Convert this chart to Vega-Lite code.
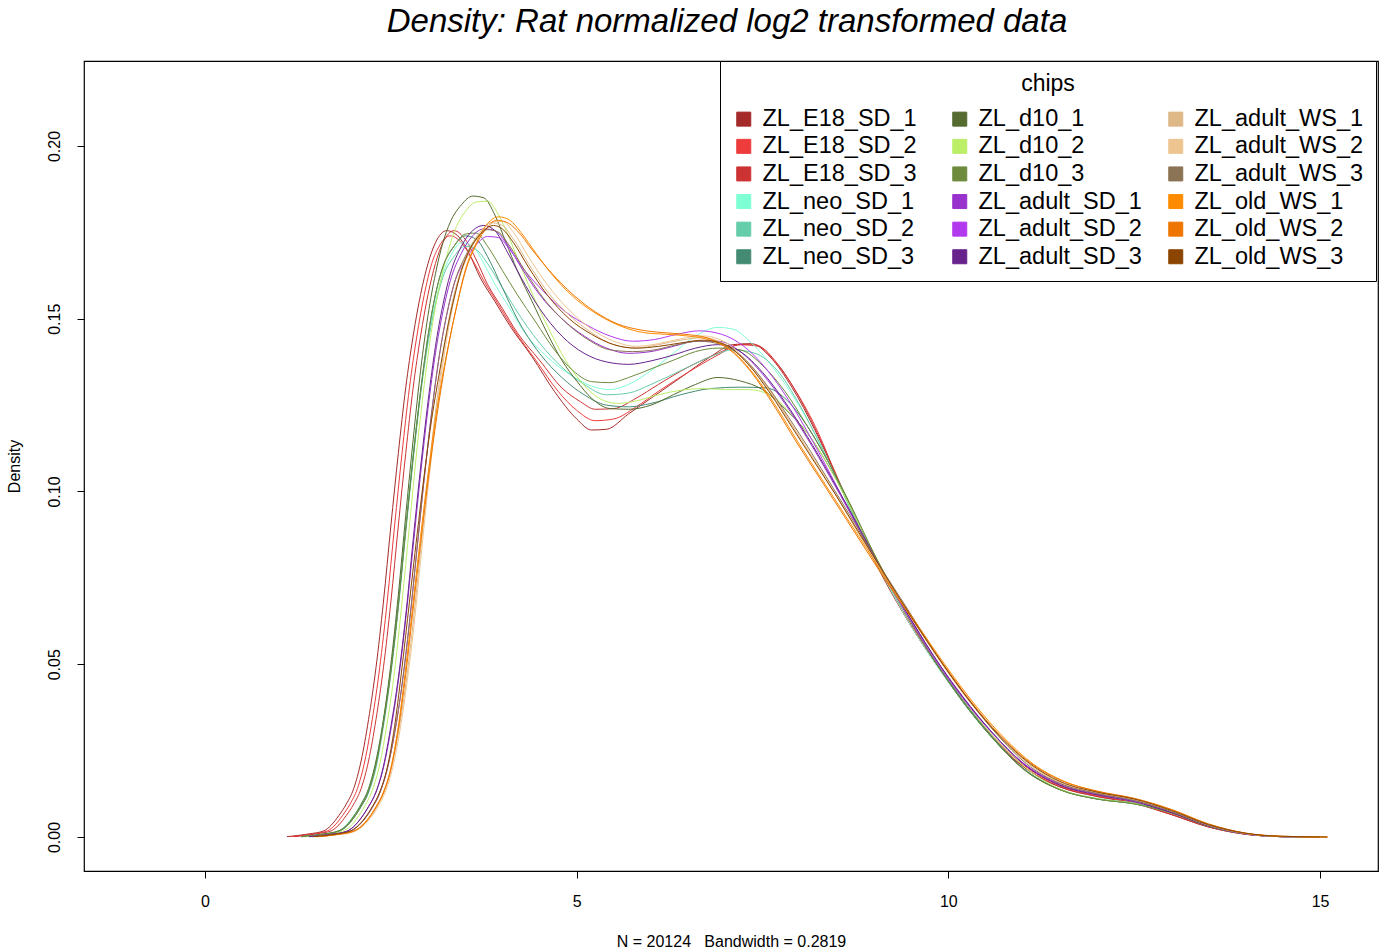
{
"$schema": "https://vega.github.io/schema/vega-lite/v6.json",
"width": 1294,
"height": 810,
"autosize": {"type": "none"},
"padding": {"left": 84, "top": 61, "right": 9, "bottom": 80},
"background": "white",
"title": {"text": "Density: Rat normalized log2 transformed data", "font": "Liberation Sans", "fontSize": 33, "fontStyle": "italic", "fontWeight": "normal", "color": "black", "anchor": "middle", "baseline": "alphabetic", "offset": -4, "dx": -4},
"config": {"view": {"stroke": "black", "strokeWidth": 1.2}, "font": "Liberation Sans"},
"datasets": {
"curves": [
{"c":"ZL_E18_SD_1","x":1.1,"y":0.0001},{"c":"ZL_E18_SD_1","x":1.4,"y":0.0009},{"c":"ZL_E18_SD_1","x":1.6,"y":0.0018},{"c":"ZL_E18_SD_1","x":1.7,"y":0.0035},{"c":"ZL_E18_SD_1","x":1.8,"y":0.0062},{"c":"ZL_E18_SD_1","x":1.9,"y":0.0095},{"c":"ZL_E18_SD_1","x":2.0,"y":0.014},{"c":"ZL_E18_SD_1","x":2.1,"y":0.022},{"c":"ZL_E18_SD_1","x":2.2,"y":0.034},{"c":"ZL_E18_SD_1","x":2.3,"y":0.049},{"c":"ZL_E18_SD_1","x":2.4,"y":0.068},{"c":"ZL_E18_SD_1","x":2.5,"y":0.090},{"c":"ZL_E18_SD_1","x":2.6,"y":0.111},{"c":"ZL_E18_SD_1","x":2.7,"y":0.130},{"c":"ZL_E18_SD_1","x":2.8,"y":0.145},{"c":"ZL_E18_SD_1","x":2.9,"y":0.157},{"c":"ZL_E18_SD_1","x":3.0,"y":0.166},{"c":"ZL_E18_SD_1","x":3.1,"y":0.172},{"c":"ZL_E18_SD_1","x":3.25,"y":0.1755},{"c":"ZL_E18_SD_1","x":3.4,"y":0.174},{"c":"ZL_E18_SD_1","x":3.55,"y":0.169},{"c":"ZL_E18_SD_1","x":3.7,"y":0.162},{"c":"ZL_E18_SD_1","x":3.9,"y":0.155},{"c":"ZL_E18_SD_1","x":4.1,"y":0.148},{"c":"ZL_E18_SD_1","x":4.4,"y":0.139},{"c":"ZL_E18_SD_1","x":4.7,"y":0.129},{"c":"ZL_E18_SD_1","x":5.0,"y":0.121},{"c":"ZL_E18_SD_1","x":5.2,"y":0.1178},{"c":"ZL_E18_SD_1","x":5.4,"y":0.118},{"c":"ZL_E18_SD_1","x":5.7,"y":0.1225},{"c":"ZL_E18_SD_1","x":6.0,"y":0.127},{"c":"ZL_E18_SD_1","x":6.4,"y":0.133},{"c":"ZL_E18_SD_1","x":6.8,"y":0.139},{"c":"ZL_E18_SD_1","x":7.1,"y":0.1425},{"c":"ZL_E18_SD_1","x":7.35,"y":0.1428},{"c":"ZL_E18_SD_1","x":7.6,"y":0.139},{"c":"ZL_E18_SD_1","x":7.9,"y":0.130},{"c":"ZL_E18_SD_1","x":8.2,"y":0.118},{"c":"ZL_E18_SD_1","x":8.5,"y":0.104},{"c":"ZL_E18_SD_1","x":8.8,"y":0.089},{"c":"ZL_E18_SD_1","x":9.1,"y":0.076},{"c":"ZL_E18_SD_1","x":9.5,"y":0.061},{"c":"ZL_E18_SD_1","x":10.0,"y":0.045},{"c":"ZL_E18_SD_1","x":10.5,"y":0.031},{"c":"ZL_E18_SD_1","x":11.0,"y":0.0205},{"c":"ZL_E18_SD_1","x":11.5,"y":0.0145},{"c":"ZL_E18_SD_1","x":12.0,"y":0.0118},{"c":"ZL_E18_SD_1","x":12.5,"y":0.0098},{"c":"ZL_E18_SD_1","x":13.0,"y":0.0065},{"c":"ZL_E18_SD_1","x":13.5,"y":0.0029},{"c":"ZL_E18_SD_1","x":14.0,"y":0.0008},{"c":"ZL_E18_SD_1","x":14.5,"y":0.0001},{"c":"ZL_E18_SD_1","x":14.9,"y":0},
{"c":"ZL_E18_SD_2","x":1.15,"y":0.0001},{"c":"ZL_E18_SD_2","x":1.45,"y":0.0009},{"c":"ZL_E18_SD_2","x":1.65,"y":0.0018},{"c":"ZL_E18_SD_2","x":1.75,"y":0.0035},{"c":"ZL_E18_SD_2","x":1.85,"y":0.0062},{"c":"ZL_E18_SD_2","x":1.95,"y":0.0095},{"c":"ZL_E18_SD_2","x":2.05,"y":0.014},{"c":"ZL_E18_SD_2","x":2.15,"y":0.022},{"c":"ZL_E18_SD_2","x":2.25,"y":0.034},{"c":"ZL_E18_SD_2","x":2.35,"y":0.049},{"c":"ZL_E18_SD_2","x":2.45,"y":0.068},{"c":"ZL_E18_SD_2","x":2.55,"y":0.090},{"c":"ZL_E18_SD_2","x":2.65,"y":0.111},{"c":"ZL_E18_SD_2","x":2.75,"y":0.130},{"c":"ZL_E18_SD_2","x":2.85,"y":0.145},{"c":"ZL_E18_SD_2","x":2.95,"y":0.157},{"c":"ZL_E18_SD_2","x":3.05,"y":0.166},{"c":"ZL_E18_SD_2","x":3.15,"y":0.171},{"c":"ZL_E18_SD_2","x":3.3,"y":0.174},{"c":"ZL_E18_SD_2","x":3.45,"y":0.172},{"c":"ZL_E18_SD_2","x":3.6,"y":0.167},{"c":"ZL_E18_SD_2","x":3.75,"y":0.161},{"c":"ZL_E18_SD_2","x":3.95,"y":0.154},{"c":"ZL_E18_SD_2","x":4.15,"y":0.147},{"c":"ZL_E18_SD_2","x":4.45,"y":0.138},{"c":"ZL_E18_SD_2","x":4.75,"y":0.129},{"c":"ZL_E18_SD_2","x":5.0,"y":0.1235},{"c":"ZL_E18_SD_2","x":5.25,"y":0.1205},{"c":"ZL_E18_SD_2","x":5.5,"y":0.121},{"c":"ZL_E18_SD_2","x":5.8,"y":0.1245},{"c":"ZL_E18_SD_2","x":6.1,"y":0.129},{"c":"ZL_E18_SD_2","x":6.5,"y":0.1345},{"c":"ZL_E18_SD_2","x":6.9,"y":0.1395},{"c":"ZL_E18_SD_2","x":7.2,"y":0.1425},{"c":"ZL_E18_SD_2","x":7.4,"y":0.1425},{"c":"ZL_E18_SD_2","x":7.65,"y":0.138},{"c":"ZL_E18_SD_2","x":7.95,"y":0.129},{"c":"ZL_E18_SD_2","x":8.25,"y":0.117},{"c":"ZL_E18_SD_2","x":8.5,"y":0.104},{"c":"ZL_E18_SD_2","x":8.8,"y":0.089},{"c":"ZL_E18_SD_2","x":9.1,"y":0.0765},{"c":"ZL_E18_SD_2","x":9.5,"y":0.0615},{"c":"ZL_E18_SD_2","x":10.0,"y":0.0455},{"c":"ZL_E18_SD_2","x":10.5,"y":0.0315},{"c":"ZL_E18_SD_2","x":11.0,"y":0.021},{"c":"ZL_E18_SD_2","x":11.5,"y":0.0148},{"c":"ZL_E18_SD_2","x":12.0,"y":0.012},{"c":"ZL_E18_SD_2","x":12.5,"y":0.0099},{"c":"ZL_E18_SD_2","x":13.0,"y":0.0066},{"c":"ZL_E18_SD_2","x":13.5,"y":0.003},{"c":"ZL_E18_SD_2","x":14.0,"y":0.0008},{"c":"ZL_E18_SD_2","x":14.5,"y":0.0001},{"c":"ZL_E18_SD_2","x":14.9,"y":0},
{"c":"ZL_E18_SD_3","x":1.2,"y":0.0001},{"c":"ZL_E18_SD_3","x":1.5,"y":0.0009},{"c":"ZL_E18_SD_3","x":1.7,"y":0.0018},{"c":"ZL_E18_SD_3","x":1.8,"y":0.0035},{"c":"ZL_E18_SD_3","x":1.9,"y":0.0062},{"c":"ZL_E18_SD_3","x":2.0,"y":0.0095},{"c":"ZL_E18_SD_3","x":2.1,"y":0.014},{"c":"ZL_E18_SD_3","x":2.2,"y":0.022},{"c":"ZL_E18_SD_3","x":2.3,"y":0.034},{"c":"ZL_E18_SD_3","x":2.4,"y":0.049},{"c":"ZL_E18_SD_3","x":2.5,"y":0.068},{"c":"ZL_E18_SD_3","x":2.6,"y":0.090},{"c":"ZL_E18_SD_3","x":2.7,"y":0.111},{"c":"ZL_E18_SD_3","x":2.8,"y":0.130},{"c":"ZL_E18_SD_3","x":2.9,"y":0.145},{"c":"ZL_E18_SD_3","x":3.0,"y":0.157},{"c":"ZL_E18_SD_3","x":3.1,"y":0.166},{"c":"ZL_E18_SD_3","x":3.2,"y":0.172},{"c":"ZL_E18_SD_3","x":3.35,"y":0.1755},{"c":"ZL_E18_SD_3","x":3.5,"y":0.173},{"c":"ZL_E18_SD_3","x":3.65,"y":0.167},{"c":"ZL_E18_SD_3","x":3.8,"y":0.160},{"c":"ZL_E18_SD_3","x":4.0,"y":0.153},{"c":"ZL_E18_SD_3","x":4.2,"y":0.146},{"c":"ZL_E18_SD_3","x":4.5,"y":0.138},{"c":"ZL_E18_SD_3","x":4.8,"y":0.130},{"c":"ZL_E18_SD_3","x":5.05,"y":0.126},{"c":"ZL_E18_SD_3","x":5.25,"y":0.1238},{"c":"ZL_E18_SD_3","x":5.5,"y":0.124},{"c":"ZL_E18_SD_3","x":5.8,"y":0.127},{"c":"ZL_E18_SD_3","x":6.1,"y":0.131},{"c":"ZL_E18_SD_3","x":6.5,"y":0.136},{"c":"ZL_E18_SD_3","x":6.9,"y":0.140},{"c":"ZL_E18_SD_3","x":7.2,"y":0.1425},{"c":"ZL_E18_SD_3","x":7.45,"y":0.142},{"c":"ZL_E18_SD_3","x":7.7,"y":0.137},{"c":"ZL_E18_SD_3","x":8.0,"y":0.127},{"c":"ZL_E18_SD_3","x":8.3,"y":0.114},{"c":"ZL_E18_SD_3","x":8.55,"y":0.102},{"c":"ZL_E18_SD_3","x":8.8,"y":0.0895},{"c":"ZL_E18_SD_3","x":9.1,"y":0.0765},{"c":"ZL_E18_SD_3","x":9.5,"y":0.061},{"c":"ZL_E18_SD_3","x":10.0,"y":0.045},{"c":"ZL_E18_SD_3","x":10.5,"y":0.031},{"c":"ZL_E18_SD_3","x":11.0,"y":0.0205},{"c":"ZL_E18_SD_3","x":11.5,"y":0.0145},{"c":"ZL_E18_SD_3","x":12.0,"y":0.0117},{"c":"ZL_E18_SD_3","x":12.5,"y":0.0097},{"c":"ZL_E18_SD_3","x":13.0,"y":0.0065},{"c":"ZL_E18_SD_3","x":13.5,"y":0.0029},{"c":"ZL_E18_SD_3","x":14.0,"y":0.0008},{"c":"ZL_E18_SD_3","x":14.5,"y":0.0001},{"c":"ZL_E18_SD_3","x":14.9,"y":0},
{"c":"ZL_neo_SD_1","x":1.3,"y":0.0001},{"c":"ZL_neo_SD_1","x":1.6,"y":0.0009},{"c":"ZL_neo_SD_1","x":1.8,"y":0.0018},{"c":"ZL_neo_SD_1","x":1.9,"y":0.0035},{"c":"ZL_neo_SD_1","x":2.0,"y":0.0062},{"c":"ZL_neo_SD_1","x":2.1,"y":0.0095},{"c":"ZL_neo_SD_1","x":2.2,"y":0.014},{"c":"ZL_neo_SD_1","x":2.3,"y":0.022},{"c":"ZL_neo_SD_1","x":2.4,"y":0.034},{"c":"ZL_neo_SD_1","x":2.5,"y":0.049},{"c":"ZL_neo_SD_1","x":2.6,"y":0.068},{"c":"ZL_neo_SD_1","x":2.7,"y":0.090},{"c":"ZL_neo_SD_1","x":2.8,"y":0.111},{"c":"ZL_neo_SD_1","x":2.9,"y":0.129},{"c":"ZL_neo_SD_1","x":3.0,"y":0.144},{"c":"ZL_neo_SD_1","x":3.1,"y":0.155},{"c":"ZL_neo_SD_1","x":3.2,"y":0.163},{"c":"ZL_neo_SD_1","x":3.3,"y":0.168},{"c":"ZL_neo_SD_1","x":3.45,"y":0.172},{"c":"ZL_neo_SD_1","x":3.6,"y":0.171},{"c":"ZL_neo_SD_1","x":3.75,"y":0.166},{"c":"ZL_neo_SD_1","x":3.9,"y":0.160},{"c":"ZL_neo_SD_1","x":4.1,"y":0.153},{"c":"ZL_neo_SD_1","x":4.3,"y":0.146},{"c":"ZL_neo_SD_1","x":4.6,"y":0.139},{"c":"ZL_neo_SD_1","x":4.9,"y":0.134},{"c":"ZL_neo_SD_1","x":5.2,"y":0.1305},{"c":"ZL_neo_SD_1","x":5.45,"y":0.1295},{"c":"ZL_neo_SD_1","x":5.7,"y":0.131},{"c":"ZL_neo_SD_1","x":6.0,"y":0.135},{"c":"ZL_neo_SD_1","x":6.3,"y":0.140},{"c":"ZL_neo_SD_1","x":6.6,"y":0.145},{"c":"ZL_neo_SD_1","x":6.9,"y":0.1475},{"c":"ZL_neo_SD_1","x":7.1,"y":0.147},{"c":"ZL_neo_SD_1","x":7.35,"y":0.143},{"c":"ZL_neo_SD_1","x":7.6,"y":0.137},{"c":"ZL_neo_SD_1","x":7.9,"y":0.128},{"c":"ZL_neo_SD_1","x":8.2,"y":0.117},{"c":"ZL_neo_SD_1","x":8.5,"y":0.1035},{"c":"ZL_neo_SD_1","x":8.8,"y":0.089},{"c":"ZL_neo_SD_1","x":9.1,"y":0.0765},{"c":"ZL_neo_SD_1","x":9.5,"y":0.061},{"c":"ZL_neo_SD_1","x":10.0,"y":0.0448},{"c":"ZL_neo_SD_1","x":10.5,"y":0.0308},{"c":"ZL_neo_SD_1","x":11.0,"y":0.020},{"c":"ZL_neo_SD_1","x":11.5,"y":0.0138},{"c":"ZL_neo_SD_1","x":12.0,"y":0.0112},{"c":"ZL_neo_SD_1","x":12.5,"y":0.0098},{"c":"ZL_neo_SD_1","x":13.0,"y":0.0072},{"c":"ZL_neo_SD_1","x":13.5,"y":0.0033},{"c":"ZL_neo_SD_1","x":14.0,"y":0.0009},{"c":"ZL_neo_SD_1","x":14.5,"y":0.0001},{"c":"ZL_neo_SD_1","x":15.0,"y":0},
{"c":"ZL_neo_SD_2","x":1.3,"y":0.0001},{"c":"ZL_neo_SD_2","x":1.6,"y":0.0008},{"c":"ZL_neo_SD_2","x":1.8,"y":0.0017},{"c":"ZL_neo_SD_2","x":1.9,"y":0.003},{"c":"ZL_neo_SD_2","x":2.0,"y":0.0055},{"c":"ZL_neo_SD_2","x":2.1,"y":0.0088},{"c":"ZL_neo_SD_2","x":2.2,"y":0.013},{"c":"ZL_neo_SD_2","x":2.3,"y":0.020},{"c":"ZL_neo_SD_2","x":2.4,"y":0.032},{"c":"ZL_neo_SD_2","x":2.5,"y":0.047},{"c":"ZL_neo_SD_2","x":2.6,"y":0.066},{"c":"ZL_neo_SD_2","x":2.7,"y":0.088},{"c":"ZL_neo_SD_2","x":2.8,"y":0.109},{"c":"ZL_neo_SD_2","x":2.9,"y":0.128},{"c":"ZL_neo_SD_2","x":3.0,"y":0.143},{"c":"ZL_neo_SD_2","x":3.1,"y":0.154},{"c":"ZL_neo_SD_2","x":3.2,"y":0.162},{"c":"ZL_neo_SD_2","x":3.35,"y":0.168},{"c":"ZL_neo_SD_2","x":3.5,"y":0.171},{"c":"ZL_neo_SD_2","x":3.65,"y":0.170},{"c":"ZL_neo_SD_2","x":3.8,"y":0.166},{"c":"ZL_neo_SD_2","x":4.0,"y":0.159},{"c":"ZL_neo_SD_2","x":4.2,"y":0.152},{"c":"ZL_neo_SD_2","x":4.5,"y":0.143},{"c":"ZL_neo_SD_2","x":4.8,"y":0.136},{"c":"ZL_neo_SD_2","x":5.1,"y":0.131},{"c":"ZL_neo_SD_2","x":5.4,"y":0.128},{"c":"ZL_neo_SD_2","x":5.7,"y":0.1285},{"c":"ZL_neo_SD_2","x":6.0,"y":0.131},{"c":"ZL_neo_SD_2","x":6.4,"y":0.135},{"c":"ZL_neo_SD_2","x":6.8,"y":0.139},{"c":"ZL_neo_SD_2","x":7.1,"y":0.141},{"c":"ZL_neo_SD_2","x":7.4,"y":0.140},{"c":"ZL_neo_SD_2","x":7.7,"y":0.135},{"c":"ZL_neo_SD_2","x":8.0,"y":0.125},{"c":"ZL_neo_SD_2","x":8.3,"y":0.1125},{"c":"ZL_neo_SD_2","x":8.6,"y":0.099},{"c":"ZL_neo_SD_2","x":8.9,"y":0.085},{"c":"ZL_neo_SD_2","x":9.2,"y":0.073},{"c":"ZL_neo_SD_2","x":9.6,"y":0.0585},{"c":"ZL_neo_SD_2","x":10.0,"y":0.0455},{"c":"ZL_neo_SD_2","x":10.5,"y":0.031},{"c":"ZL_neo_SD_2","x":11.0,"y":0.020},{"c":"ZL_neo_SD_2","x":11.5,"y":0.0137},{"c":"ZL_neo_SD_2","x":12.0,"y":0.011},{"c":"ZL_neo_SD_2","x":12.5,"y":0.0096},{"c":"ZL_neo_SD_2","x":13.0,"y":0.007},{"c":"ZL_neo_SD_2","x":13.5,"y":0.0032},{"c":"ZL_neo_SD_2","x":14.0,"y":0.0009},{"c":"ZL_neo_SD_2","x":14.5,"y":0.0001},{"c":"ZL_neo_SD_2","x":15.0,"y":0},
{"c":"ZL_neo_SD_3","x":1.3,"y":0.0001},{"c":"ZL_neo_SD_3","x":1.6,"y":0.0008},{"c":"ZL_neo_SD_3","x":1.8,"y":0.0017},{"c":"ZL_neo_SD_3","x":1.9,"y":0.003},{"c":"ZL_neo_SD_3","x":2.0,"y":0.0055},{"c":"ZL_neo_SD_3","x":2.1,"y":0.0088},{"c":"ZL_neo_SD_3","x":2.2,"y":0.013},{"c":"ZL_neo_SD_3","x":2.3,"y":0.021},{"c":"ZL_neo_SD_3","x":2.4,"y":0.033},{"c":"ZL_neo_SD_3","x":2.5,"y":0.048},{"c":"ZL_neo_SD_3","x":2.6,"y":0.067},{"c":"ZL_neo_SD_3","x":2.7,"y":0.089},{"c":"ZL_neo_SD_3","x":2.8,"y":0.110},{"c":"ZL_neo_SD_3","x":2.9,"y":0.129},{"c":"ZL_neo_SD_3","x":3.0,"y":0.145},{"c":"ZL_neo_SD_3","x":3.1,"y":0.157},{"c":"ZL_neo_SD_3","x":3.2,"y":0.165},{"c":"ZL_neo_SD_3","x":3.35,"y":0.171},{"c":"ZL_neo_SD_3","x":3.5,"y":0.174},{"c":"ZL_neo_SD_3","x":3.65,"y":0.173},{"c":"ZL_neo_SD_3","x":3.8,"y":0.168},{"c":"ZL_neo_SD_3","x":4.0,"y":0.159},{"c":"ZL_neo_SD_3","x":4.2,"y":0.150},{"c":"ZL_neo_SD_3","x":4.5,"y":0.140},{"c":"ZL_neo_SD_3","x":4.8,"y":0.133},{"c":"ZL_neo_SD_3","x":5.1,"y":0.128},{"c":"ZL_neo_SD_3","x":5.4,"y":0.125},{"c":"ZL_neo_SD_3","x":5.7,"y":0.1245},{"c":"ZL_neo_SD_3","x":6.0,"y":0.1255},{"c":"ZL_neo_SD_3","x":6.4,"y":0.128},{"c":"ZL_neo_SD_3","x":6.8,"y":0.1298},{"c":"ZL_neo_SD_3","x":7.2,"y":0.1302},{"c":"ZL_neo_SD_3","x":7.55,"y":0.130},{"c":"ZL_neo_SD_3","x":7.8,"y":0.127},{"c":"ZL_neo_SD_3","x":8.1,"y":0.119},{"c":"ZL_neo_SD_3","x":8.4,"y":0.108},{"c":"ZL_neo_SD_3","x":8.7,"y":0.095},{"c":"ZL_neo_SD_3","x":9.0,"y":0.0815},{"c":"ZL_neo_SD_3","x":9.4,"y":0.066},{"c":"ZL_neo_SD_3","x":9.8,"y":0.0515},{"c":"ZL_neo_SD_3","x":10.2,"y":0.0395},{"c":"ZL_neo_SD_3","x":10.6,"y":0.0288},{"c":"ZL_neo_SD_3","x":11.0,"y":0.020},{"c":"ZL_neo_SD_3","x":11.5,"y":0.0138},{"c":"ZL_neo_SD_3","x":12.0,"y":0.011},{"c":"ZL_neo_SD_3","x":12.5,"y":0.0097},{"c":"ZL_neo_SD_3","x":13.0,"y":0.0071},{"c":"ZL_neo_SD_3","x":13.5,"y":0.0032},{"c":"ZL_neo_SD_3","x":14.0,"y":0.0009},{"c":"ZL_neo_SD_3","x":14.5,"y":0.0001},{"c":"ZL_neo_SD_3","x":15.0,"y":0},
{"c":"ZL_d10_1","x":1.3,"y":0.0001},{"c":"ZL_d10_1","x":1.6,"y":0.0009},{"c":"ZL_d10_1","x":1.8,"y":0.0018},{"c":"ZL_d10_1","x":1.9,"y":0.0033},{"c":"ZL_d10_1","x":2.0,"y":0.006},{"c":"ZL_d10_1","x":2.1,"y":0.0095},{"c":"ZL_d10_1","x":2.2,"y":0.014},{"c":"ZL_d10_1","x":2.3,"y":0.022},{"c":"ZL_d10_1","x":2.4,"y":0.034},{"c":"ZL_d10_1","x":2.5,"y":0.050},{"c":"ZL_d10_1","x":2.6,"y":0.070},{"c":"ZL_d10_1","x":2.7,"y":0.093},{"c":"ZL_d10_1","x":2.8,"y":0.115},{"c":"ZL_d10_1","x":2.9,"y":0.135},{"c":"ZL_d10_1","x":3.0,"y":0.151},{"c":"ZL_d10_1","x":3.1,"y":0.163},{"c":"ZL_d10_1","x":3.2,"y":0.172},{"c":"ZL_d10_1","x":3.3,"y":0.178},{"c":"ZL_d10_1","x":3.45,"y":0.183},{"c":"ZL_d10_1","x":3.6,"y":0.1855},{"c":"ZL_d10_1","x":3.75,"y":0.185},{"c":"ZL_d10_1","x":3.9,"y":0.180},{"c":"ZL_d10_1","x":4.05,"y":0.172},{"c":"ZL_d10_1","x":4.2,"y":0.164},{"c":"ZL_d10_1","x":4.4,"y":0.155},{"c":"ZL_d10_1","x":4.6,"y":0.146},{"c":"ZL_d10_1","x":4.8,"y":0.138},{"c":"ZL_d10_1","x":5.0,"y":0.132},{"c":"ZL_d10_1","x":5.2,"y":0.127},{"c":"ZL_d10_1","x":5.45,"y":0.124},{"c":"ZL_d10_1","x":5.7,"y":0.1238},{"c":"ZL_d10_1","x":6.0,"y":0.125},{"c":"ZL_d10_1","x":6.3,"y":0.128},{"c":"ZL_d10_1","x":6.6,"y":0.131},{"c":"ZL_d10_1","x":6.9,"y":0.133},{"c":"ZL_d10_1","x":7.2,"y":0.132},{"c":"ZL_d10_1","x":7.5,"y":0.1295},{"c":"ZL_d10_1","x":7.8,"y":0.124},{"c":"ZL_d10_1","x":8.1,"y":0.117},{"c":"ZL_d10_1","x":8.4,"y":0.107},{"c":"ZL_d10_1","x":8.7,"y":0.095},{"c":"ZL_d10_1","x":9.0,"y":0.082},{"c":"ZL_d10_1","x":9.4,"y":0.066},{"c":"ZL_d10_1","x":9.8,"y":0.0515},{"c":"ZL_d10_1","x":10.2,"y":0.039},{"c":"ZL_d10_1","x":10.6,"y":0.0285},{"c":"ZL_d10_1","x":11.0,"y":0.0198},{"c":"ZL_d10_1","x":11.5,"y":0.0137},{"c":"ZL_d10_1","x":12.0,"y":0.011},{"c":"ZL_d10_1","x":12.5,"y":0.0096},{"c":"ZL_d10_1","x":13.0,"y":0.007},{"c":"ZL_d10_1","x":13.5,"y":0.0031},{"c":"ZL_d10_1","x":14.0,"y":0.0009},{"c":"ZL_d10_1","x":14.5,"y":0.0001},{"c":"ZL_d10_1","x":15.0,"y":0},
{"c":"ZL_d10_2","x":1.35,"y":0.0001},{"c":"ZL_d10_2","x":1.65,"y":0.0008},{"c":"ZL_d10_2","x":1.85,"y":0.0017},{"c":"ZL_d10_2","x":1.95,"y":0.003},{"c":"ZL_d10_2","x":2.05,"y":0.0056},{"c":"ZL_d10_2","x":2.15,"y":0.009},{"c":"ZL_d10_2","x":2.25,"y":0.0135},{"c":"ZL_d10_2","x":2.35,"y":0.021},{"c":"ZL_d10_2","x":2.45,"y":0.033},{"c":"ZL_d10_2","x":2.55,"y":0.048},{"c":"ZL_d10_2","x":2.65,"y":0.068},{"c":"ZL_d10_2","x":2.75,"y":0.090},{"c":"ZL_d10_2","x":2.85,"y":0.112},{"c":"ZL_d10_2","x":2.95,"y":0.131},{"c":"ZL_d10_2","x":3.05,"y":0.147},{"c":"ZL_d10_2","x":3.15,"y":0.159},{"c":"ZL_d10_2","x":3.25,"y":0.168},{"c":"ZL_d10_2","x":3.35,"y":0.175},{"c":"ZL_d10_2","x":3.5,"y":0.181},{"c":"ZL_d10_2","x":3.65,"y":0.1838},{"c":"ZL_d10_2","x":3.8,"y":0.184},{"c":"ZL_d10_2","x":3.95,"y":0.180},{"c":"ZL_d10_2","x":4.1,"y":0.173},{"c":"ZL_d10_2","x":4.25,"y":0.165},{"c":"ZL_d10_2","x":4.45,"y":0.155},{"c":"ZL_d10_2","x":4.65,"y":0.146},{"c":"ZL_d10_2","x":4.85,"y":0.138},{"c":"ZL_d10_2","x":5.05,"y":0.132},{"c":"ZL_d10_2","x":5.3,"y":0.127},{"c":"ZL_d10_2","x":5.55,"y":0.1255},{"c":"ZL_d10_2","x":5.8,"y":0.1262},{"c":"ZL_d10_2","x":6.1,"y":0.128},{"c":"ZL_d10_2","x":6.4,"y":0.1293},{"c":"ZL_d10_2","x":6.7,"y":0.1298},{"c":"ZL_d10_2","x":7.0,"y":0.1295},{"c":"ZL_d10_2","x":7.3,"y":0.1295},{"c":"ZL_d10_2","x":7.6,"y":0.128},{"c":"ZL_d10_2","x":7.9,"y":0.122},{"c":"ZL_d10_2","x":8.2,"y":0.114},{"c":"ZL_d10_2","x":8.5,"y":0.103},{"c":"ZL_d10_2","x":8.8,"y":0.0905},{"c":"ZL_d10_2","x":9.1,"y":0.078},{"c":"ZL_d10_2","x":9.5,"y":0.0625},{"c":"ZL_d10_2","x":9.9,"y":0.049},{"c":"ZL_d10_2","x":10.3,"y":0.037},{"c":"ZL_d10_2","x":10.7,"y":0.027},{"c":"ZL_d10_2","x":11.1,"y":0.019},{"c":"ZL_d10_2","x":11.5,"y":0.0139},{"c":"ZL_d10_2","x":12.0,"y":0.0111},{"c":"ZL_d10_2","x":12.5,"y":0.0097},{"c":"ZL_d10_2","x":13.0,"y":0.007},{"c":"ZL_d10_2","x":13.5,"y":0.0032},{"c":"ZL_d10_2","x":14.0,"y":0.0009},{"c":"ZL_d10_2","x":14.5,"y":0.0001},{"c":"ZL_d10_2","x":15.0,"y":0},
{"c":"ZL_d10_3","x":1.3,"y":0.0001},{"c":"ZL_d10_3","x":1.6,"y":0.0008},{"c":"ZL_d10_3","x":1.8,"y":0.0017},{"c":"ZL_d10_3","x":1.9,"y":0.003},{"c":"ZL_d10_3","x":2.0,"y":0.0056},{"c":"ZL_d10_3","x":2.1,"y":0.009},{"c":"ZL_d10_3","x":2.2,"y":0.0135},{"c":"ZL_d10_3","x":2.3,"y":0.021},{"c":"ZL_d10_3","x":2.4,"y":0.033},{"c":"ZL_d10_3","x":2.5,"y":0.048},{"c":"ZL_d10_3","x":2.6,"y":0.067},{"c":"ZL_d10_3","x":2.7,"y":0.089},{"c":"ZL_d10_3","x":2.8,"y":0.110},{"c":"ZL_d10_3","x":2.9,"y":0.129},{"c":"ZL_d10_3","x":3.0,"y":0.145},{"c":"ZL_d10_3","x":3.1,"y":0.157},{"c":"ZL_d10_3","x":3.2,"y":0.165},{"c":"ZL_d10_3","x":3.35,"y":0.171},{"c":"ZL_d10_3","x":3.5,"y":0.1745},{"c":"ZL_d10_3","x":3.65,"y":0.1748},{"c":"ZL_d10_3","x":3.8,"y":0.171},{"c":"ZL_d10_3","x":4.0,"y":0.164},{"c":"ZL_d10_3","x":4.2,"y":0.157},{"c":"ZL_d10_3","x":4.45,"y":0.149},{"c":"ZL_d10_3","x":4.7,"y":0.141},{"c":"ZL_d10_3","x":4.95,"y":0.135},{"c":"ZL_d10_3","x":5.2,"y":0.1318},{"c":"ZL_d10_3","x":5.45,"y":0.1315},{"c":"ZL_d10_3","x":5.7,"y":0.133},{"c":"ZL_d10_3","x":6.0,"y":0.1355},{"c":"ZL_d10_3","x":6.3,"y":0.138},{"c":"ZL_d10_3","x":6.6,"y":0.1405},{"c":"ZL_d10_3","x":6.9,"y":0.1415},{"c":"ZL_d10_3","x":7.2,"y":0.141},{"c":"ZL_d10_3","x":7.5,"y":0.1365},{"c":"ZL_d10_3","x":7.8,"y":0.129},{"c":"ZL_d10_3","x":8.1,"y":0.119},{"c":"ZL_d10_3","x":8.4,"y":0.108},{"c":"ZL_d10_3","x":8.7,"y":0.0955},{"c":"ZL_d10_3","x":9.0,"y":0.082},{"c":"ZL_d10_3","x":9.4,"y":0.066},{"c":"ZL_d10_3","x":9.8,"y":0.0515},{"c":"ZL_d10_3","x":10.2,"y":0.039},{"c":"ZL_d10_3","x":10.6,"y":0.0285},{"c":"ZL_d10_3","x":11.0,"y":0.0198},{"c":"ZL_d10_3","x":11.5,"y":0.0137},{"c":"ZL_d10_3","x":12.0,"y":0.011},{"c":"ZL_d10_3","x":12.5,"y":0.0096},{"c":"ZL_d10_3","x":13.0,"y":0.007},{"c":"ZL_d10_3","x":13.5,"y":0.0031},{"c":"ZL_d10_3","x":14.0,"y":0.0009},{"c":"ZL_d10_3","x":14.5,"y":0.0001},{"c":"ZL_d10_3","x":15.0,"y":0},
{"c":"ZL_adult_SD_1","x":1.4,"y":0.0001},{"c":"ZL_adult_SD_1","x":1.7,"y":0.0008},{"c":"ZL_adult_SD_1","x":1.9,"y":0.0016},{"c":"ZL_adult_SD_1","x":2.0,"y":0.003},{"c":"ZL_adult_SD_1","x":2.1,"y":0.0055},{"c":"ZL_adult_SD_1","x":2.2,"y":0.0088},{"c":"ZL_adult_SD_1","x":2.3,"y":0.013},{"c":"ZL_adult_SD_1","x":2.4,"y":0.020},{"c":"ZL_adult_SD_1","x":2.5,"y":0.031},{"c":"ZL_adult_SD_1","x":2.6,"y":0.045},{"c":"ZL_adult_SD_1","x":2.7,"y":0.063},{"c":"ZL_adult_SD_1","x":2.8,"y":0.084},{"c":"ZL_adult_SD_1","x":2.9,"y":0.105},{"c":"ZL_adult_SD_1","x":3.0,"y":0.124},{"c":"ZL_adult_SD_1","x":3.1,"y":0.140},{"c":"ZL_adult_SD_1","x":3.2,"y":0.152},{"c":"ZL_adult_SD_1","x":3.3,"y":0.161},{"c":"ZL_adult_SD_1","x":3.45,"y":0.169},{"c":"ZL_adult_SD_1","x":3.6,"y":0.174},{"c":"ZL_adult_SD_1","x":3.75,"y":0.176},{"c":"ZL_adult_SD_1","x":3.9,"y":0.1755},{"c":"ZL_adult_SD_1","x":4.05,"y":0.172},{"c":"ZL_adult_SD_1","x":4.25,"y":0.165},{"c":"ZL_adult_SD_1","x":4.5,"y":0.157},{"c":"ZL_adult_SD_1","x":4.8,"y":0.150},{"c":"ZL_adult_SD_1","x":5.1,"y":0.145},{"c":"ZL_adult_SD_1","x":5.4,"y":0.1415},{"c":"ZL_adult_SD_1","x":5.7,"y":0.140},{"c":"ZL_adult_SD_1","x":6.0,"y":0.1405},{"c":"ZL_adult_SD_1","x":6.3,"y":0.142},{"c":"ZL_adult_SD_1","x":6.6,"y":0.1435},{"c":"ZL_adult_SD_1","x":6.9,"y":0.1435},{"c":"ZL_adult_SD_1","x":7.2,"y":0.1405},{"c":"ZL_adult_SD_1","x":7.5,"y":0.134},{"c":"ZL_adult_SD_1","x":7.8,"y":0.1255},{"c":"ZL_adult_SD_1","x":8.1,"y":0.1155},{"c":"ZL_adult_SD_1","x":8.4,"y":0.1045},{"c":"ZL_adult_SD_1","x":8.7,"y":0.093},{"c":"ZL_adult_SD_1","x":9.0,"y":0.081},{"c":"ZL_adult_SD_1","x":9.4,"y":0.0665},{"c":"ZL_adult_SD_1","x":9.8,"y":0.0525},{"c":"ZL_adult_SD_1","x":10.2,"y":0.0405},{"c":"ZL_adult_SD_1","x":10.6,"y":0.030},{"c":"ZL_adult_SD_1","x":11.0,"y":0.0215},{"c":"ZL_adult_SD_1","x":11.5,"y":0.0152},{"c":"ZL_adult_SD_1","x":12.0,"y":0.0124},{"c":"ZL_adult_SD_1","x":12.5,"y":0.0104},{"c":"ZL_adult_SD_1","x":13.0,"y":0.0072},{"c":"ZL_adult_SD_1","x":13.5,"y":0.0033},{"c":"ZL_adult_SD_1","x":14.0,"y":0.0009},{"c":"ZL_adult_SD_1","x":14.5,"y":0.0001},{"c":"ZL_adult_SD_1","x":15.0,"y":0},
{"c":"ZL_adult_SD_2","x":1.45,"y":0.0001},{"c":"ZL_adult_SD_2","x":1.75,"y":0.0008},{"c":"ZL_adult_SD_2","x":1.95,"y":0.0016},{"c":"ZL_adult_SD_2","x":2.05,"y":0.003},{"c":"ZL_adult_SD_2","x":2.15,"y":0.0053},{"c":"ZL_adult_SD_2","x":2.25,"y":0.0085},{"c":"ZL_adult_SD_2","x":2.35,"y":0.0127},{"c":"ZL_adult_SD_2","x":2.45,"y":0.0195},{"c":"ZL_adult_SD_2","x":2.55,"y":0.030},{"c":"ZL_adult_SD_2","x":2.65,"y":0.044},{"c":"ZL_adult_SD_2","x":2.75,"y":0.062},{"c":"ZL_adult_SD_2","x":2.85,"y":0.083},{"c":"ZL_adult_SD_2","x":2.95,"y":0.104},{"c":"ZL_adult_SD_2","x":3.05,"y":0.123},{"c":"ZL_adult_SD_2","x":3.15,"y":0.139},{"c":"ZL_adult_SD_2","x":3.25,"y":0.151},{"c":"ZL_adult_SD_2","x":3.35,"y":0.160},{"c":"ZL_adult_SD_2","x":3.5,"y":0.167},{"c":"ZL_adult_SD_2","x":3.65,"y":0.1715},{"c":"ZL_adult_SD_2","x":3.8,"y":0.1738},{"c":"ZL_adult_SD_2","x":3.95,"y":0.1735},{"c":"ZL_adult_SD_2","x":4.1,"y":0.170},{"c":"ZL_adult_SD_2","x":4.3,"y":0.164},{"c":"ZL_adult_SD_2","x":4.55,"y":0.158},{"c":"ZL_adult_SD_2","x":4.85,"y":0.152},{"c":"ZL_adult_SD_2","x":5.15,"y":0.148},{"c":"ZL_adult_SD_2","x":5.45,"y":0.145},{"c":"ZL_adult_SD_2","x":5.75,"y":0.1435},{"c":"ZL_adult_SD_2","x":6.05,"y":0.144},{"c":"ZL_adult_SD_2","x":6.35,"y":0.1455},{"c":"ZL_adult_SD_2","x":6.65,"y":0.1465},{"c":"ZL_adult_SD_2","x":6.95,"y":0.1455},{"c":"ZL_adult_SD_2","x":7.25,"y":0.142},{"c":"ZL_adult_SD_2","x":7.55,"y":0.1355},{"c":"ZL_adult_SD_2","x":7.85,"y":0.1265},{"c":"ZL_adult_SD_2","x":8.15,"y":0.1155},{"c":"ZL_adult_SD_2","x":8.45,"y":0.1035},{"c":"ZL_adult_SD_2","x":8.75,"y":0.091},{"c":"ZL_adult_SD_2","x":9.05,"y":0.079},{"c":"ZL_adult_SD_2","x":9.4,"y":0.066},{"c":"ZL_adult_SD_2","x":9.8,"y":0.052},{"c":"ZL_adult_SD_2","x":10.2,"y":0.040},{"c":"ZL_adult_SD_2","x":10.6,"y":0.0298},{"c":"ZL_adult_SD_2","x":11.0,"y":0.0215},{"c":"ZL_adult_SD_2","x":11.5,"y":0.0155},{"c":"ZL_adult_SD_2","x":12.0,"y":0.0126},{"c":"ZL_adult_SD_2","x":12.5,"y":0.0105},{"c":"ZL_adult_SD_2","x":13.0,"y":0.0073},{"c":"ZL_adult_SD_2","x":13.5,"y":0.0033},{"c":"ZL_adult_SD_2","x":14.0,"y":0.0009},{"c":"ZL_adult_SD_2","x":14.5,"y":0.0001},{"c":"ZL_adult_SD_2","x":15.0,"y":0},
{"c":"ZL_adult_SD_3","x":1.4,"y":0.0001},{"c":"ZL_adult_SD_3","x":1.7,"y":0.0008},{"c":"ZL_adult_SD_3","x":1.9,"y":0.0016},{"c":"ZL_adult_SD_3","x":2.0,"y":0.003},{"c":"ZL_adult_SD_3","x":2.1,"y":0.0055},{"c":"ZL_adult_SD_3","x":2.2,"y":0.0088},{"c":"ZL_adult_SD_3","x":2.3,"y":0.013},{"c":"ZL_adult_SD_3","x":2.4,"y":0.0205},{"c":"ZL_adult_SD_3","x":2.5,"y":0.032},{"c":"ZL_adult_SD_3","x":2.6,"y":0.046},{"c":"ZL_adult_SD_3","x":2.7,"y":0.064},{"c":"ZL_adult_SD_3","x":2.8,"y":0.086},{"c":"ZL_adult_SD_3","x":2.9,"y":0.107},{"c":"ZL_adult_SD_3","x":3.0,"y":0.126},{"c":"ZL_adult_SD_3","x":3.1,"y":0.142},{"c":"ZL_adult_SD_3","x":3.2,"y":0.154},{"c":"ZL_adult_SD_3","x":3.3,"y":0.163},{"c":"ZL_adult_SD_3","x":3.45,"y":0.171},{"c":"ZL_adult_SD_3","x":3.6,"y":0.1755},{"c":"ZL_adult_SD_3","x":3.75,"y":0.177},{"c":"ZL_adult_SD_3","x":3.9,"y":0.1755},{"c":"ZL_adult_SD_3","x":4.05,"y":0.170},{"c":"ZL_adult_SD_3","x":4.25,"y":0.162},{"c":"ZL_adult_SD_3","x":4.5,"y":0.153},{"c":"ZL_adult_SD_3","x":4.8,"y":0.145},{"c":"ZL_adult_SD_3","x":5.1,"y":0.140},{"c":"ZL_adult_SD_3","x":5.4,"y":0.1375},{"c":"ZL_adult_SD_3","x":5.7,"y":0.1368},{"c":"ZL_adult_SD_3","x":6.0,"y":0.1378},{"c":"ZL_adult_SD_3","x":6.3,"y":0.1395},{"c":"ZL_adult_SD_3","x":6.6,"y":0.1415},{"c":"ZL_adult_SD_3","x":6.9,"y":0.1425},{"c":"ZL_adult_SD_3","x":7.2,"y":0.1405},{"c":"ZL_adult_SD_3","x":7.5,"y":0.1345},{"c":"ZL_adult_SD_3","x":7.8,"y":0.126},{"c":"ZL_adult_SD_3","x":8.1,"y":0.116},{"c":"ZL_adult_SD_3","x":8.4,"y":0.105},{"c":"ZL_adult_SD_3","x":8.7,"y":0.0935},{"c":"ZL_adult_SD_3","x":9.0,"y":0.0815},{"c":"ZL_adult_SD_3","x":9.4,"y":0.0665},{"c":"ZL_adult_SD_3","x":9.8,"y":0.0525},{"c":"ZL_adult_SD_3","x":10.2,"y":0.0403},{"c":"ZL_adult_SD_3","x":10.6,"y":0.030},{"c":"ZL_adult_SD_3","x":11.0,"y":0.0213},{"c":"ZL_adult_SD_3","x":11.5,"y":0.015},{"c":"ZL_adult_SD_3","x":12.0,"y":0.0122},{"c":"ZL_adult_SD_3","x":12.5,"y":0.0102},{"c":"ZL_adult_SD_3","x":13.0,"y":0.0071},{"c":"ZL_adult_SD_3","x":13.5,"y":0.0032},{"c":"ZL_adult_SD_3","x":14.0,"y":0.0009},{"c":"ZL_adult_SD_3","x":14.5,"y":0.0001},{"c":"ZL_adult_SD_3","x":15.0,"y":0},
{"c":"ZL_adult_WS_1","x":1.5,"y":0.0001},{"c":"ZL_adult_WS_1","x":1.8,"y":0.0008},{"c":"ZL_adult_WS_1","x":2.0,"y":0.0016},{"c":"ZL_adult_WS_1","x":2.1,"y":0.003},{"c":"ZL_adult_WS_1","x":2.2,"y":0.0053},{"c":"ZL_adult_WS_1","x":2.3,"y":0.0085},{"c":"ZL_adult_WS_1","x":2.4,"y":0.0127},{"c":"ZL_adult_WS_1","x":2.5,"y":0.0195},{"c":"ZL_adult_WS_1","x":2.6,"y":0.030},{"c":"ZL_adult_WS_1","x":2.7,"y":0.044},{"c":"ZL_adult_WS_1","x":2.8,"y":0.062},{"c":"ZL_adult_WS_1","x":2.9,"y":0.083},{"c":"ZL_adult_WS_1","x":3.0,"y":0.104},{"c":"ZL_adult_WS_1","x":3.1,"y":0.123},{"c":"ZL_adult_WS_1","x":3.2,"y":0.139},{"c":"ZL_adult_WS_1","x":3.3,"y":0.152},{"c":"ZL_adult_WS_1","x":3.4,"y":0.161},{"c":"ZL_adult_WS_1","x":3.55,"y":0.170},{"c":"ZL_adult_WS_1","x":3.7,"y":0.175},{"c":"ZL_adult_WS_1","x":3.85,"y":0.1778},{"c":"ZL_adult_WS_1","x":4.0,"y":0.177},{"c":"ZL_adult_WS_1","x":4.15,"y":0.173},{"c":"ZL_adult_WS_1","x":4.35,"y":0.166},{"c":"ZL_adult_WS_1","x":4.6,"y":0.158},{"c":"ZL_adult_WS_1","x":4.9,"y":0.151},{"c":"ZL_adult_WS_1","x":5.2,"y":0.146},{"c":"ZL_adult_WS_1","x":5.5,"y":0.1425},{"c":"ZL_adult_WS_1","x":5.8,"y":0.1415},{"c":"ZL_adult_WS_1","x":6.1,"y":0.1425},{"c":"ZL_adult_WS_1","x":6.4,"y":0.1438},{"c":"ZL_adult_WS_1","x":6.7,"y":0.1445},{"c":"ZL_adult_WS_1","x":7.0,"y":0.1425},{"c":"ZL_adult_WS_1","x":7.3,"y":0.137},{"c":"ZL_adult_WS_1","x":7.6,"y":0.129},{"c":"ZL_adult_WS_1","x":7.9,"y":0.119},{"c":"ZL_adult_WS_1","x":8.2,"y":0.109},{"c":"ZL_adult_WS_1","x":8.5,"y":0.0985},{"c":"ZL_adult_WS_1","x":8.8,"y":0.0875},{"c":"ZL_adult_WS_1","x":9.1,"y":0.077},{"c":"ZL_adult_WS_1","x":9.5,"y":0.0635},{"c":"ZL_adult_WS_1","x":9.9,"y":0.0505},{"c":"ZL_adult_WS_1","x":10.3,"y":0.0388},{"c":"ZL_adult_WS_1","x":10.7,"y":0.0288},{"c":"ZL_adult_WS_1","x":11.1,"y":0.0208},{"c":"ZL_adult_WS_1","x":11.5,"y":0.0158},{"c":"ZL_adult_WS_1","x":12.0,"y":0.0128},{"c":"ZL_adult_WS_1","x":12.5,"y":0.0108},{"c":"ZL_adult_WS_1","x":13.0,"y":0.0075},{"c":"ZL_adult_WS_1","x":13.5,"y":0.0034},{"c":"ZL_adult_WS_1","x":14.0,"y":0.001},{"c":"ZL_adult_WS_1","x":14.5,"y":0.0001},{"c":"ZL_adult_WS_1","x":15.0,"y":0},
{"c":"ZL_adult_WS_2","x":1.5,"y":0.0001},{"c":"ZL_adult_WS_2","x":1.8,"y":0.0007},{"c":"ZL_adult_WS_2","x":2.0,"y":0.0015},{"c":"ZL_adult_WS_2","x":2.1,"y":0.0027},{"c":"ZL_adult_WS_2","x":2.2,"y":0.0048},{"c":"ZL_adult_WS_2","x":2.3,"y":0.0078},{"c":"ZL_adult_WS_2","x":2.4,"y":0.0118},{"c":"ZL_adult_WS_2","x":2.5,"y":0.018},{"c":"ZL_adult_WS_2","x":2.6,"y":0.028},{"c":"ZL_adult_WS_2","x":2.7,"y":0.042},{"c":"ZL_adult_WS_2","x":2.8,"y":0.059},{"c":"ZL_adult_WS_2","x":2.9,"y":0.080},{"c":"ZL_adult_WS_2","x":3.0,"y":0.101},{"c":"ZL_adult_WS_2","x":3.1,"y":0.120},{"c":"ZL_adult_WS_2","x":3.2,"y":0.137},{"c":"ZL_adult_WS_2","x":3.3,"y":0.150},{"c":"ZL_adult_WS_2","x":3.4,"y":0.160},{"c":"ZL_adult_WS_2","x":3.55,"y":0.169},{"c":"ZL_adult_WS_2","x":3.7,"y":0.1745},{"c":"ZL_adult_WS_2","x":3.85,"y":0.178},{"c":"ZL_adult_WS_2","x":4.0,"y":0.1782},{"c":"ZL_adult_WS_2","x":4.15,"y":0.175},{"c":"ZL_adult_WS_2","x":4.35,"y":0.168},{"c":"ZL_adult_WS_2","x":4.6,"y":0.160},{"c":"ZL_adult_WS_2","x":4.9,"y":0.1525},{"c":"ZL_adult_WS_2","x":5.2,"y":0.147},{"c":"ZL_adult_WS_2","x":5.5,"y":0.1435},{"c":"ZL_adult_WS_2","x":5.8,"y":0.142},{"c":"ZL_adult_WS_2","x":6.1,"y":0.1428},{"c":"ZL_adult_WS_2","x":6.4,"y":0.1442},{"c":"ZL_adult_WS_2","x":6.7,"y":0.145},{"c":"ZL_adult_WS_2","x":7.0,"y":0.1432},{"c":"ZL_adult_WS_2","x":7.3,"y":0.1375},{"c":"ZL_adult_WS_2","x":7.6,"y":0.1292},{"c":"ZL_adult_WS_2","x":7.9,"y":0.1192},{"c":"ZL_adult_WS_2","x":8.2,"y":0.109},{"c":"ZL_adult_WS_2","x":8.5,"y":0.0985},{"c":"ZL_adult_WS_2","x":8.8,"y":0.0878},{"c":"ZL_adult_WS_2","x":9.1,"y":0.0772},{"c":"ZL_adult_WS_2","x":9.5,"y":0.0635},{"c":"ZL_adult_WS_2","x":9.9,"y":0.0505},{"c":"ZL_adult_WS_2","x":10.3,"y":0.0388},{"c":"ZL_adult_WS_2","x":10.7,"y":0.0288},{"c":"ZL_adult_WS_2","x":11.1,"y":0.021},{"c":"ZL_adult_WS_2","x":11.5,"y":0.0159},{"c":"ZL_adult_WS_2","x":12.0,"y":0.0129},{"c":"ZL_adult_WS_2","x":12.5,"y":0.0108},{"c":"ZL_adult_WS_2","x":13.0,"y":0.0075},{"c":"ZL_adult_WS_2","x":13.5,"y":0.0034},{"c":"ZL_adult_WS_2","x":14.0,"y":0.001},{"c":"ZL_adult_WS_2","x":14.5,"y":0.0001},{"c":"ZL_adult_WS_2","x":15.0,"y":0},
{"c":"ZL_adult_WS_3","x":1.45,"y":0.0001},{"c":"ZL_adult_WS_3","x":1.75,"y":0.0008},{"c":"ZL_adult_WS_3","x":1.95,"y":0.0016},{"c":"ZL_adult_WS_3","x":2.05,"y":0.003},{"c":"ZL_adult_WS_3","x":2.15,"y":0.0053},{"c":"ZL_adult_WS_3","x":2.25,"y":0.0085},{"c":"ZL_adult_WS_3","x":2.35,"y":0.0127},{"c":"ZL_adult_WS_3","x":2.45,"y":0.0195},{"c":"ZL_adult_WS_3","x":2.55,"y":0.030},{"c":"ZL_adult_WS_3","x":2.65,"y":0.044},{"c":"ZL_adult_WS_3","x":2.75,"y":0.062},{"c":"ZL_adult_WS_3","x":2.85,"y":0.083},{"c":"ZL_adult_WS_3","x":2.95,"y":0.104},{"c":"ZL_adult_WS_3","x":3.05,"y":0.123},{"c":"ZL_adult_WS_3","x":3.15,"y":0.139},{"c":"ZL_adult_WS_3","x":3.25,"y":0.151},{"c":"ZL_adult_WS_3","x":3.35,"y":0.160},{"c":"ZL_adult_WS_3","x":3.5,"y":0.168},{"c":"ZL_adult_WS_3","x":3.65,"y":0.173},{"c":"ZL_adult_WS_3","x":3.8,"y":0.1758},{"c":"ZL_adult_WS_3","x":3.95,"y":0.175},{"c":"ZL_adult_WS_3","x":4.1,"y":0.171},{"c":"ZL_adult_WS_3","x":4.3,"y":0.164},{"c":"ZL_adult_WS_3","x":4.55,"y":0.156},{"c":"ZL_adult_WS_3","x":4.85,"y":0.149},{"c":"ZL_adult_WS_3","x":5.15,"y":0.144},{"c":"ZL_adult_WS_3","x":5.45,"y":0.141},{"c":"ZL_adult_WS_3","x":5.75,"y":0.1405},{"c":"ZL_adult_WS_3","x":6.05,"y":0.141},{"c":"ZL_adult_WS_3","x":6.35,"y":0.1425},{"c":"ZL_adult_WS_3","x":6.65,"y":0.1435},{"c":"ZL_adult_WS_3","x":6.95,"y":0.1425},{"c":"ZL_adult_WS_3","x":7.25,"y":0.1385},{"c":"ZL_adult_WS_3","x":7.55,"y":0.131},{"c":"ZL_adult_WS_3","x":7.85,"y":0.1215},{"c":"ZL_adult_WS_3","x":8.15,"y":0.1115},{"c":"ZL_adult_WS_3","x":8.45,"y":0.101},{"c":"ZL_adult_WS_3","x":8.75,"y":0.0905},{"c":"ZL_adult_WS_3","x":9.05,"y":0.0795},{"c":"ZL_adult_WS_3","x":9.45,"y":0.066},{"c":"ZL_adult_WS_3","x":9.85,"y":0.0525},{"c":"ZL_adult_WS_3","x":10.25,"y":0.0405},{"c":"ZL_adult_WS_3","x":10.65,"y":0.0298},{"c":"ZL_adult_WS_3","x":11.05,"y":0.0212},{"c":"ZL_adult_WS_3","x":11.5,"y":0.0155},{"c":"ZL_adult_WS_3","x":12.0,"y":0.0126},{"c":"ZL_adult_WS_3","x":12.5,"y":0.0106},{"c":"ZL_adult_WS_3","x":13.0,"y":0.0074},{"c":"ZL_adult_WS_3","x":13.5,"y":0.0034},{"c":"ZL_adult_WS_3","x":14.0,"y":0.001},{"c":"ZL_adult_WS_3","x":14.5,"y":0.0001},{"c":"ZL_adult_WS_3","x":15.0,"y":0},
{"c":"ZL_old_WS_1","x":1.5,"y":0.0001},{"c":"ZL_old_WS_1","x":1.8,"y":0.0008},{"c":"ZL_old_WS_1","x":2.0,"y":0.0017},{"c":"ZL_old_WS_1","x":2.1,"y":0.0031},{"c":"ZL_old_WS_1","x":2.2,"y":0.0055},{"c":"ZL_old_WS_1","x":2.3,"y":0.0088},{"c":"ZL_old_WS_1","x":2.4,"y":0.013},{"c":"ZL_old_WS_1","x":2.5,"y":0.020},{"c":"ZL_old_WS_1","x":2.6,"y":0.032},{"c":"ZL_old_WS_1","x":2.7,"y":0.049},{"c":"ZL_old_WS_1","x":2.8,"y":0.068},{"c":"ZL_old_WS_1","x":2.9,"y":0.087},{"c":"ZL_old_WS_1","x":3.0,"y":0.105},{"c":"ZL_old_WS_1","x":3.1,"y":0.121},{"c":"ZL_old_WS_1","x":3.2,"y":0.134},{"c":"ZL_old_WS_1","x":3.3,"y":0.145},{"c":"ZL_old_WS_1","x":3.4,"y":0.155},{"c":"ZL_old_WS_1","x":3.5,"y":0.164},{"c":"ZL_old_WS_1","x":3.65,"y":0.172},{"c":"ZL_old_WS_1","x":3.8,"y":0.1775},{"c":"ZL_old_WS_1","x":3.95,"y":0.1795},{"c":"ZL_old_WS_1","x":4.1,"y":0.1785},{"c":"ZL_old_WS_1","x":4.25,"y":0.175},{"c":"ZL_old_WS_1","x":4.45,"y":0.169},{"c":"ZL_old_WS_1","x":4.7,"y":0.162},{"c":"ZL_old_WS_1","x":5.0,"y":0.1555},{"c":"ZL_old_WS_1","x":5.3,"y":0.151},{"c":"ZL_old_WS_1","x":5.6,"y":0.1478},{"c":"ZL_old_WS_1","x":5.9,"y":0.146},{"c":"ZL_old_WS_1","x":6.2,"y":0.1455},{"c":"ZL_old_WS_1","x":6.5,"y":0.145},{"c":"ZL_old_WS_1","x":6.8,"y":0.1438},{"c":"ZL_old_WS_1","x":7.1,"y":0.1405},{"c":"ZL_old_WS_1","x":7.4,"y":0.1335},{"c":"ZL_old_WS_1","x":7.7,"y":0.124},{"c":"ZL_old_WS_1","x":8.0,"y":0.1135},{"c":"ZL_old_WS_1","x":8.3,"y":0.1035},{"c":"ZL_old_WS_1","x":8.6,"y":0.0935},{"c":"ZL_old_WS_1","x":8.9,"y":0.0835},{"c":"ZL_old_WS_1","x":9.2,"y":0.0735},{"c":"ZL_old_WS_1","x":9.55,"y":0.0625},{"c":"ZL_old_WS_1","x":9.95,"y":0.050},{"c":"ZL_old_WS_1","x":10.35,"y":0.0385},{"c":"ZL_old_WS_1","x":10.75,"y":0.0287},{"c":"ZL_old_WS_1","x":11.15,"y":0.021},{"c":"ZL_old_WS_1","x":11.55,"y":0.0162},{"c":"ZL_old_WS_1","x":12.0,"y":0.0132},{"c":"ZL_old_WS_1","x":12.5,"y":0.0111},{"c":"ZL_old_WS_1","x":13.0,"y":0.0079},{"c":"ZL_old_WS_1","x":13.5,"y":0.0037},{"c":"ZL_old_WS_1","x":14.0,"y":0.0011},{"c":"ZL_old_WS_1","x":14.5,"y":0.0002},{"c":"ZL_old_WS_1","x":15.1,"y":0},
{"c":"ZL_old_WS_2","x":1.5,"y":0.0001},{"c":"ZL_old_WS_2","x":1.8,"y":0.0008},{"c":"ZL_old_WS_2","x":2.0,"y":0.0017},{"c":"ZL_old_WS_2","x":2.1,"y":0.003},{"c":"ZL_old_WS_2","x":2.2,"y":0.0053},{"c":"ZL_old_WS_2","x":2.3,"y":0.0085},{"c":"ZL_old_WS_2","x":2.4,"y":0.0127},{"c":"ZL_old_WS_2","x":2.5,"y":0.0195},{"c":"ZL_old_WS_2","x":2.6,"y":0.031},{"c":"ZL_old_WS_2","x":2.7,"y":0.047},{"c":"ZL_old_WS_2","x":2.8,"y":0.066},{"c":"ZL_old_WS_2","x":2.9,"y":0.085},{"c":"ZL_old_WS_2","x":3.0,"y":0.103},{"c":"ZL_old_WS_2","x":3.1,"y":0.119},{"c":"ZL_old_WS_2","x":3.2,"y":0.133},{"c":"ZL_old_WS_2","x":3.3,"y":0.145},{"c":"ZL_old_WS_2","x":3.4,"y":0.155},{"c":"ZL_old_WS_2","x":3.5,"y":0.1635},{"c":"ZL_old_WS_2","x":3.65,"y":0.1715},{"c":"ZL_old_WS_2","x":3.8,"y":0.1765},{"c":"ZL_old_WS_2","x":3.92,"y":0.1785},{"c":"ZL_old_WS_2","x":4.05,"y":0.178},{"c":"ZL_old_WS_2","x":4.2,"y":0.1755},{"c":"ZL_old_WS_2","x":4.4,"y":0.170},{"c":"ZL_old_WS_2","x":4.65,"y":0.1635},{"c":"ZL_old_WS_2","x":4.95,"y":0.157},{"c":"ZL_old_WS_2","x":5.25,"y":0.152},{"c":"ZL_old_WS_2","x":5.55,"y":0.1485},{"c":"ZL_old_WS_2","x":5.85,"y":0.1468},{"c":"ZL_old_WS_2","x":6.15,"y":0.146},{"c":"ZL_old_WS_2","x":6.45,"y":0.1455},{"c":"ZL_old_WS_2","x":6.75,"y":0.1445},{"c":"ZL_old_WS_2","x":7.05,"y":0.1412},{"c":"ZL_old_WS_2","x":7.35,"y":0.1345},{"c":"ZL_old_WS_2","x":7.65,"y":0.125},{"c":"ZL_old_WS_2","x":7.95,"y":0.1145},{"c":"ZL_old_WS_2","x":8.25,"y":0.1045},{"c":"ZL_old_WS_2","x":8.55,"y":0.0945},{"c":"ZL_old_WS_2","x":8.85,"y":0.0845},{"c":"ZL_old_WS_2","x":9.15,"y":0.0745},{"c":"ZL_old_WS_2","x":9.5,"y":0.0635},{"c":"ZL_old_WS_2","x":9.9,"y":0.051},{"c":"ZL_old_WS_2","x":10.3,"y":0.0393},{"c":"ZL_old_WS_2","x":10.7,"y":0.0293},{"c":"ZL_old_WS_2","x":11.1,"y":0.0215},{"c":"ZL_old_WS_2","x":11.5,"y":0.0165},{"c":"ZL_old_WS_2","x":12.0,"y":0.0133},{"c":"ZL_old_WS_2","x":12.5,"y":0.0112},{"c":"ZL_old_WS_2","x":13.0,"y":0.008},{"c":"ZL_old_WS_2","x":13.5,"y":0.0038},{"c":"ZL_old_WS_2","x":14.0,"y":0.0011},{"c":"ZL_old_WS_2","x":14.5,"y":0.0002},{"c":"ZL_old_WS_2","x":15.1,"y":0},
{"c":"ZL_old_WS_3","x":1.45,"y":0.0001},{"c":"ZL_old_WS_3","x":1.75,"y":0.0008},{"c":"ZL_old_WS_3","x":1.95,"y":0.0017},{"c":"ZL_old_WS_3","x":2.05,"y":0.0031},{"c":"ZL_old_WS_3","x":2.15,"y":0.0055},{"c":"ZL_old_WS_3","x":2.25,"y":0.0088},{"c":"ZL_old_WS_3","x":2.35,"y":0.013},{"c":"ZL_old_WS_3","x":2.45,"y":0.020},{"c":"ZL_old_WS_3","x":2.55,"y":0.032},{"c":"ZL_old_WS_3","x":2.65,"y":0.049},{"c":"ZL_old_WS_3","x":2.75,"y":0.068},{"c":"ZL_old_WS_3","x":2.85,"y":0.087},{"c":"ZL_old_WS_3","x":2.95,"y":0.105},{"c":"ZL_old_WS_3","x":3.05,"y":0.121},{"c":"ZL_old_WS_3","x":3.15,"y":0.134},{"c":"ZL_old_WS_3","x":3.25,"y":0.146},{"c":"ZL_old_WS_3","x":3.35,"y":0.156},{"c":"ZL_old_WS_3","x":3.45,"y":0.164},{"c":"ZL_old_WS_3","x":3.6,"y":0.1715},{"c":"ZL_old_WS_3","x":3.75,"y":0.1755},{"c":"ZL_old_WS_3","x":3.88,"y":0.177},{"c":"ZL_old_WS_3","x":4.0,"y":0.176},{"c":"ZL_old_WS_3","x":4.15,"y":0.172},{"c":"ZL_old_WS_3","x":4.35,"y":0.165},{"c":"ZL_old_WS_3","x":4.6,"y":0.157},{"c":"ZL_old_WS_3","x":4.9,"y":0.150},{"c":"ZL_old_WS_3","x":5.2,"y":0.1455},{"c":"ZL_old_WS_3","x":5.5,"y":0.1425},{"c":"ZL_old_WS_3","x":5.8,"y":0.1415},{"c":"ZL_old_WS_3","x":6.1,"y":0.142},{"c":"ZL_old_WS_3","x":6.4,"y":0.143},{"c":"ZL_old_WS_3","x":6.7,"y":0.1438},{"c":"ZL_old_WS_3","x":7.0,"y":0.1425},{"c":"ZL_old_WS_3","x":7.3,"y":0.137},{"c":"ZL_old_WS_3","x":7.6,"y":0.1285},{"c":"ZL_old_WS_3","x":7.9,"y":0.1185},{"c":"ZL_old_WS_3","x":8.2,"y":0.1085},{"c":"ZL_old_WS_3","x":8.5,"y":0.0985},{"c":"ZL_old_WS_3","x":8.8,"y":0.088},{"c":"ZL_old_WS_3","x":9.1,"y":0.0775},{"c":"ZL_old_WS_3","x":9.5,"y":0.0638},{"c":"ZL_old_WS_3","x":9.9,"y":0.0508},{"c":"ZL_old_WS_3","x":10.3,"y":0.039},{"c":"ZL_old_WS_3","x":10.7,"y":0.029},{"c":"ZL_old_WS_3","x":11.1,"y":0.0212},{"c":"ZL_old_WS_3","x":11.5,"y":0.0161},{"c":"ZL_old_WS_3","x":12.0,"y":0.013},{"c":"ZL_old_WS_3","x":12.5,"y":0.011},{"c":"ZL_old_WS_3","x":13.0,"y":0.0077},{"c":"ZL_old_WS_3","x":13.5,"y":0.0036},{"c":"ZL_old_WS_3","x":14.0,"y":0.0011},{"c":"ZL_old_WS_3","x":14.5,"y":0.0002},{"c":"ZL_old_WS_3","x":15.1,"y":0}
]
},
"layer": [
{"mark": {"type": "rule", "color": "#BEBEBE", "strokeWidth": 1.2}, "encoding": {"y": {"datum": 0, "type": "quantitative", "scale": {"domain": [-0.00984, 0.2246], "nice": false, "zero": false}}}},
{"data": {"name": "curves"},
 "mark": {"type": "line", "strokeWidth": 1, "interpolate": "monotone"},
 "encoding": {
  "x": {"field": "x", "type": "quantitative", "scale": {"domain": [-1.628, 15.78], "nice": false, "zero": false},
        "axis": {"values": [0, 5, 10, 15], "domain": false, "grid": false, "tickSize": 7, "tickColor": "black", "labelFontSize": 16, "labelColor": "black", "labelFont": "Liberation Sans", "labelPadding": 15, "title": "N = 20124\u00a0\u00a0\u00a0Bandwidth = 0.2819", "titleFontSize": 16, "titleFontWeight": "normal", "titleFont": "Liberation Sans", "titleColor": "black", "titlePadding": 24}},
  "y": {"field": "y", "type": "quantitative", "scale": {"domain": [-0.00984, 0.2246], "nice": false, "zero": false},
        "axis": {"values": [0, 0.05, 0.1, 0.15, 0.2], "format": ".2f", "domain": false, "grid": false, "tickSize": 7, "tickColor": "black", "labelFontSize": 16, "labelColor": "black", "labelFont": "Liberation Sans", "labelAngle": -90, "labelPadding": 15, "title": "Density", "titleFontSize": 16, "titleFontWeight": "normal", "titleFont": "Liberation Sans", "titleColor": "black", "titlePadding": 24}},
  "color": {"field": "c", "type": "nominal",
    "scale": {"domain": ["ZL_E18_SD_1","ZL_E18_SD_2","ZL_E18_SD_3","ZL_neo_SD_1","ZL_neo_SD_2","ZL_neo_SD_3","ZL_d10_1","ZL_d10_2","ZL_d10_3","ZL_adult_SD_1","ZL_adult_SD_2","ZL_adult_SD_3","ZL_adult_WS_1","ZL_adult_WS_2","ZL_adult_WS_3","ZL_old_WS_1","ZL_old_WS_2","ZL_old_WS_3"],
              "range": ["#A52A2A","#EE3B3B","#CD3333","#7FFFD4","#66CDAA","#458B74","#556B2F","#BCEE68","#6E8B3D","#9932CC","#B23AEE","#68228B","#DEB887","#EEC591","#8B7355","#FF8C00","#EE7600","#8B4500"]},
    "legend": {"orient": "none", "legendX": 636, "legendY": 0, "columns": 3, "title": "chips", "titleFontSize": 23, "titleFontWeight": "normal", "titleFont": "Liberation Sans", "titleColor": "black", "titleAnchor": "middle", "titlePadding": 11, "labelFontSize": 23.5, "labelFont": "Liberation Sans", "labelColor": "black", "labelLimit": 0, "labelOffset": 7, "symbolType": "square", "symbolSize": 196, "symbolStrokeColor": "black", "symbolStrokeWidth": 1, "padding": 12, "rowPadding": 2.6, "columnPadding": 16, "gridAlign": "all", "strokeColor": "black", "fillColor": "white",
      "encode": {"symbols": {"update": {"fill": {"scale": "color", "field": "value"}, "stroke": {"value": "black"}, "strokeWidth": {"value": 1}, "opacity": {"value": 1}}}}}
  }
 }}
]
}
